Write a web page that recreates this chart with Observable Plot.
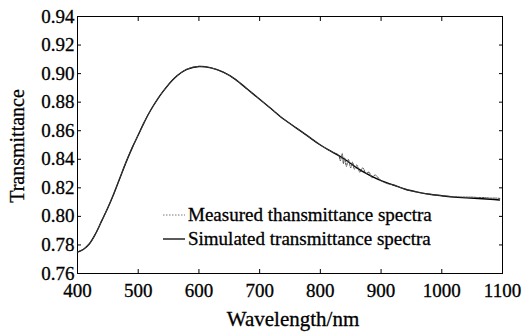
<!DOCTYPE html>
<html>
<head>
<meta charset="utf-8">
<script src="https://cdn.jsdelivr.net/npm/d3@7"></script>
<script src="https://cdn.jsdelivr.net/npm/@observablehq/plot@0.6"></script>
<style>
  html, body { margin: 0; padding: 0; background: #fff; }
  #chart { width: 522px; height: 333px; }
  #chart svg text { font-family: "Liberation Serif", "Times New Roman", serif; font-variant-numeric: normal; stroke: #000; stroke-width: 0.3px; }
</style>
</head>
<body>
<div id="chart"></div>
<script>
// ---- Data ----
const xTicks = [400, 500, 600, 700, 800, 900, 1000, 1100];
const yTicks = [0.76, 0.78, 0.80, 0.82, 0.84, 0.86, 0.88, 0.90, 0.92, 0.94];

const simWavelength = [400, 410, 420, 430, 440, 450, 460, 470, 480, 490, 500, 510, 520, 540, 560, 580, 600, 620, 640, 660, 680, 700, 720, 740, 760, 780, 800, 820, 840, 860, 880, 900, 920, 940, 960, 980, 1000, 1020, 1040, 1060, 1080, 1095];
const simTransmittance = [0.775, 0.777, 0.781, 0.788, 0.797, 0.806, 0.816, 0.827, 0.838, 0.848, 0.857, 0.866, 0.874, 0.887, 0.897, 0.903, 0.905, 0.904, 0.901, 0.896, 0.889, 0.882, 0.875, 0.868, 0.862, 0.856, 0.850, 0.845, 0.840, 0.834, 0.829, 0.825, 0.822, 0.819, 0.817, 0.8155, 0.8145, 0.8135, 0.813, 0.8125, 0.812, 0.8115];

const measWavelength = [400, 410, 420, 430, 440, 450, 460, 470, 480, 490, 500, 510, 520, 540, 560, 580, 600, 620, 640, 660, 680, 700, 720, 740, 760, 780, 800, 820, 830, 833, 836, 838, 840, 843, 846, 850, 853, 856, 860, 865, 870, 875, 880, 885, 890, 900, 910, 920, 940, 960, 980, 1000, 1020, 1040, 1050, 1060, 1070, 1080, 1090, 1097];
const measTransmittance = [0.775, 0.777, 0.781, 0.788, 0.797, 0.806, 0.816, 0.827, 0.838, 0.848, 0.857, 0.866, 0.874, 0.887, 0.897, 0.903, 0.905, 0.904, 0.901, 0.896, 0.889, 0.882, 0.875, 0.868, 0.862, 0.856, 0.850, 0.845, 0.843, 0.839, 0.844, 0.837, 0.841, 0.835, 0.840, 0.834, 0.838, 0.833, 0.836, 0.831, 0.834, 0.830, 0.831, 0.827, 0.829, 0.825, 0.823, 0.822, 0.819, 0.817, 0.8155, 0.8145, 0.8138, 0.8135, 0.8135, 0.8132, 0.8132, 0.8128, 0.8128, 0.8125];

const legendLabels = ["Measured thansmittance spectra", "Simulated transmittance spectra"];
const xLabel = "Wavelength/nm";
const yLabel = "Transmittance";

const simulated = simWavelength.map((w, i) => ({w, t: simTransmittance[i]}));
const measured = measWavelength.map((w, i) => ({w, t: measTransmittance[i]}));

const font = "Liberation Serif, Times New Roman, serif";

const plot = Plot.plot({
  width: 522,
  height: 333,
  marginLeft: 77,
  marginRight: 20,
  marginTop: 16,
  marginBottom: 60,
  style: {fontFamily: font, fontSize: "19px", color: "#000", background: "#fff", overflow: "visible"},
  x: {domain: [400, 1100], label: null},
  y: {domain: [0.76, 0.94], label: null},
  marks: [
    Plot.frame({stroke: "#000", strokeWidth: 1}),
    // inward ticks on all sides
    Plot.axisX(xTicks, {anchor: "bottom", tickSize: -4, tickFormat: () => "", label: null}),
    Plot.axisX(xTicks, {anchor: "top", tickSize: -4, tickFormat: () => "", label: null}),
    Plot.axisY(yTicks, {anchor: "left", tickSize: -4, tickFormat: () => "", label: null}),
    Plot.axisY(yTicks, {anchor: "right", tickSize: -4, tickFormat: () => "", label: null}),
    // tick labels
    Plot.axisX(xTicks, {anchor: "bottom", tickSize: 0, tickPadding: 10, tickFormat: d => String(d), label: null, fontSize: 19, fontFamily: font}),
    Plot.axisY(yTicks, {anchor: "left", tickSize: 0, tickPadding: 3, tickFormat: d3.format(".2f"), label: null, fontSize: 19, fontFamily: font}),
    // axis titles
    Plot.text([xLabel], {text: d => d, frameAnchor: "bottom", lineAnchor: "middle", textAnchor: "middle", dy: 46, dx: 3, fontSize: 21, fontFamily: font}),
    Plot.text([yLabel], {text: d => d, frameAnchor: "left", lineAnchor: "middle", textAnchor: "middle", dx: -60, dy: 1, rotate: -90, fontSize: 20, fontFamily: font}),
    // curves
    Plot.line(simulated, {x: "w", y: "t", stroke: "#000", strokeWidth: 1.4, curve: "catmull-rom"}),
    Plot.line(measured, {x: "w", y: "t", stroke: "#444", strokeWidth: 1, strokeDasharray: "1.5,1.2", curve: "catmull-rom"})
  ]
});

// legend (inside plot frame, lower left)
const svg = d3.select(plot);
const lg = svg.append("g").attr("font-family", font).attr("font-size", 19).attr("text-anchor", "start");
const legendStyles = [
  {stroke: "#777", dash: "1.5,1.5", width: 1},
  {stroke: "#000", dash: null, width: 1.3}
];
legendLabels.forEach((lab, i) => {
  const yy = 215 + i * 24;
  const ln = lg.append("line").attr("x1", 163).attr("x2", 185).attr("y1", yy).attr("y2", yy)
    .attr("stroke", legendStyles[i].stroke).attr("stroke-width", legendStyles[i].width);
  if (legendStyles[i].dash) ln.attr("stroke-dasharray", legendStyles[i].dash);
  lg.append("text").attr("x", 188).attr("y", yy).attr("dy", "0.33em").attr("fill", "#000").text(lab);
});

document.getElementById("chart").appendChild(plot);
</script>
</body>
</html>
